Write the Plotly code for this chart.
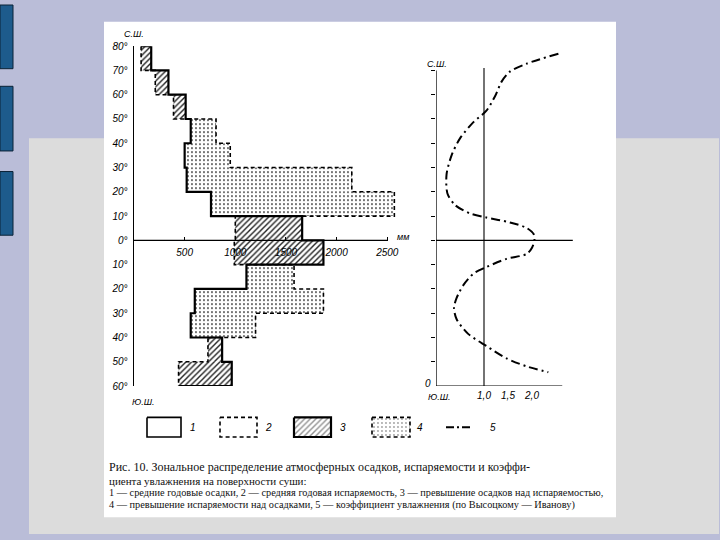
import plotly.graph_objects as go
import numpy as np

W, H = 720, 540

# ---------------- data ----------------
band_top = [80, 70, 60, 50, 40, 30, 20, 10, 0, -10, -20, -30, -40, -50]
band_bottom = [70, 60, 50, 40, 30, 20, 10, 0, -10, -20, -30, -40, -50, -60]
precipitation_mm = [170, 340, 510, 560, 500, 520, 760, 1660, 1870, 1110, 600, 560, 870, 965]
evaporation_mm = [70, 210, 390, 810, 950, 2150, 2570, 1000, 990, 1580, 1870, 1200, 730, 440]

k_latitude = [76.9, 72.8, 69.5, 65.5, 59.4, 53.4, 48.7, 42.0, 35.3, 27.2, 19.2, 14.5, 11.1,
              9.4, 7.4, 5.1, 2.4, 0.0, -3.0, -5.6, -7.6, -11.0, -13.7, -18.4, -23.7, -27.8,
              -32.5, -38.5, -43.5, -48.6, -51.9, -54.3]
k_value = [2.55, 1.89, 1.54, 1.37, 1.23, 1.05, 0.78, 0.50, 0.33, 0.22, 0.24, 0.40, 0.71,
           1.05, 1.54, 1.89, 2.04, 2.05, 2.00, 1.89, 1.47, 1.05, 0.78, 0.57, 0.43, 0.375,
           0.43, 0.67, 1.05, 1.47, 1.89, 2.34]

lat_tick_values = [80, 70, 60, 50, 40, 30, 20, 10, 0, -10, -20, -30, -40, -50, -60]
lat_tick_labels = ["80°", "70°", "60°", "50°", "40°", "30°", "20°", "10°", "0°",
                   "10°", "20°", "30°", "40°", "50°", "60°"]
right_tick_values = [70, 60, 50, 40, 30, 20, 10, 0, -10, -20, -30, -40, -50]
mm_tick_values = [500, 1000, 1500, 2000, 2500]
mm_tick_labels = ["500", "1000", "1500", "2000", "2500"]
k_tick_values = [1.0, 1.5, 2.0]
k_tick_labels = ["1,0", "1,5", "2,0"]


# ---------------- helpers ----------------
def pxx(x):
    return x / W


def pxy(y):
    return 1 - y / H


MM_PX = 0.1013
X0_L, X1_L = 134, 405
K_PX = 48.0
X0_R, X1_R = 436, 590
Y_N, Y_S = 42, 389

top = np.array(band_top, float)
bot = np.array(band_bottom, float)
p = np.array(precipitation_mm, float)
e = np.array(evaporation_mm, float)
centers = (top + bot) / 2
wet = p > e

fig = go.Figure()

# bars: precipitation exceeding evaporation (hatched)
fig.add_trace(go.Bar(
    orientation="h", y=centers[wet], base=e[wet], x=(p - e)[wet], width=10,
    xaxis="x", yaxis="y",
    marker=dict(color="white", line=dict(width=0),
                pattern=dict(shape="/", fgcolor="#222", bgcolor="white",
                             size=4, solidity=0.35, fillmode="replace")),
    showlegend=False, hoverinfo="skip"))
# bars: evaporation exceeding precipitation (dotted)
fig.add_trace(go.Bar(
    orientation="h", y=centers[~wet], base=p[~wet], x=(e - p)[~wet], width=10,
    xaxis="x", yaxis="y",
    marker=dict(color="white", line=dict(width=0),
                pattern=dict(shape=".", fgcolor="#444", bgcolor="white",
                             size=4, solidity=0.18, fillmode="replace")),
    showlegend=False, hoverinfo="skip"))

# evaporation step outline (dashed)
ev_x = np.repeat(e, 2)
ev_y = np.column_stack([top, bot]).ravel()
fig.add_trace(go.Scatter(x=ev_x, y=ev_y, mode="lines", xaxis="x", yaxis="y",
                         line=dict(color="black", width=1.6, dash="4px,3px"),
                         showlegend=False, hoverinfo="skip"))
# precipitation step outline (solid)
pr_x = np.concatenate([[e[0]], np.repeat(p, 2), [e[-1]]])
pr_y = np.concatenate([[top[0]], np.column_stack([top, bot]).ravel(), [bot[-1]]])
fig.add_trace(go.Scatter(x=pr_x, y=pr_y, mode="lines", xaxis="x", yaxis="y",
                         line=dict(color="black", width=2.2),
                         showlegend=False, hoverinfo="skip"))

# moistening coefficient curve
fig.add_trace(go.Scatter(x=k_value, y=k_latitude, mode="lines", xaxis="x2", yaxis="y2",
                         line=dict(color="black", width=2, dash="9px,4px,2px,4px",
                                   shape="spline", smoothing=0.8),
                         showlegend=False, hoverinfo="skip"))

# ---------------- legend swatches (pixel axis) ----------------
def box(x0, y0, x1, y1):
    return [x0, x1, x1, x0, x0], [y0, y0, y1, y1, y0]


bx, by = box(147, 421, 181, 441)
fig.add_trace(go.Scatter(x=bx, y=by, mode="lines", xaxis="x3", yaxis="y3",
                         line=dict(color="black", width=1.6), showlegend=False, hoverinfo="skip"))
bx, by = box(220, 421, 257, 441)
fig.add_trace(go.Scatter(x=bx, y=by, mode="lines", xaxis="x3", yaxis="y3",
                         line=dict(color="black", width=1.6, dash="4px,3px"),
                         showlegend=False, hoverinfo="skip"))
bx, by = box(294, 421, 331, 441)
fig.add_trace(go.Scatter(x=bx, y=by, mode="lines", fill="toself", xaxis="x3", yaxis="y3",
                         fillcolor="white",
                         fillpattern=dict(shape="/", fgcolor="#222", bgcolor="white",
                                          size=4, solidity=0.35),
                         line=dict(color="black", width=2.2), showlegend=False, hoverinfo="skip"))
bx, by = box(372, 421, 410, 441)
fig.add_trace(go.Scatter(x=bx, y=by, mode="lines", fill="toself", xaxis="x3", yaxis="y3",
                         fillcolor="white",
                         fillpattern=dict(shape=".", fgcolor="#444", bgcolor="white",
                                          size=4, solidity=0.18),
                         line=dict(color="black", width=1.6, dash="4px,3px"),
                         showlegend=False, hoverinfo="skip"))
fig.add_trace(go.Scatter(x=[446, 473], y=[431, 431], mode="lines", xaxis="x3", yaxis="y3",
                         line=dict(color="black", width=2, dash="8px,3px,2px,3px"),
                         showlegend=False, hoverinfo="skip"))

# ---------------- shapes ----------------
shapes = []
# slide background
shapes.append(dict(type="rect", xref="paper", yref="paper", layer="below",
                   x0=pxx(29), x1=pxx(719), y0=0, y1=pxy(136),
                   fillcolor="#dcdcdc", line=dict(width=0)))
for (a, b) in [(0, 65), (83, 149), (170, 235)]:
    shapes.append(dict(type="rect", xref="paper", yref="paper", layer="below",
                       x0=pxx(0), x1=pxx(13), y0=pxy(b), y1=pxy(a),
                       fillcolor="#1d5b8c", line=dict(width=1, color="#0b2236")))
shapes.append(dict(type="rect", xref="paper", yref="paper", layer="below",
                   x0=pxx(104), x1=pxx(616), y0=pxy(523), y1=pxy(17),
                   fillcolor="white", line=dict(width=0)))
# left chart: equator axis line
shapes.append(dict(type="line", xref="x", yref="y", x0=0, x1=2500, y0=0, y1=0,
                   line=dict(color="black", width=1.3)))
# right chart lines
shapes.append(dict(type="line", xref="x2", yref="y2", x0=0, x1=0, y0=-60, y1=70,
                   line=dict(color="black", width=1.3)))
shapes.append(dict(type="line", xref="x2", yref="y2", x0=1, x1=1, y0=-60, y1=71,
                   line=dict(color="black", width=1.1)))
shapes.append(dict(type="line", xref="x2", yref="y2", x0=0, x1=2.85, y0=0, y1=0,
                   line=dict(color="black", width=1.1)))
shapes.append(dict(type="line", xref="x2", yref="y2", x0=0, x1=2.63, y0=-60, y1=-60,
                   line=dict(color="black", width=1.1)))

# ---------------- annotations ----------------
lab_font = dict(family="Liberation Sans", size=10, color="black", style="italic")
cap_font = dict(family="Liberation Serif", color="#111")
ann = []


def add_text(t, x, y, font, xanchor="center", size=None):
    f = dict(font)
    if size:
        f["size"] = size
    ann.append(dict(text=t, x=pxx(x), y=pxy(y), xref="paper", yref="paper",
                    xanchor=xanchor, yanchor="middle", showarrow=False, font=f))


add_text("С.Ш.", 134, 30, lab_font, size=9)
add_text("Ю.Ш.", 143, 405, lab_font, size=9)
add_text("мм", 403, 237, lab_font, size=9)
add_text("С.Ш.", 437, 60, lab_font, size=9)
add_text("Ю.Ш.", 439, 400, lab_font, size=9)
add_text("0", 428, 386, lab_font)
for t, x in [("1", 188), ("2", 263), ("3", 338), ("4", 415), ("5", 488)]:
    add_text(t, x, 431, lab_font, xanchor="left")

add_text("Рис. 10. Зональное распределение атмосферных осадков, испаряемости и коэффи-",
         107, 472, cap_font, xanchor="left", size=12)
add_text("циента увлажнения на поверхности суши:", 107, 486, cap_font, xanchor="left", size=11)
add_text("1 — средние годовые осадки, 2 — средняя годовая испаряемость, "
         "3 — превышение осадков над испаряемостью,", 107, 498, cap_font, xanchor="left", size=10.3)
add_text("4 — превышение испаряемости над осадками, 5 — коэффициент увлажнения "
         "(по Высоцкому — Иванову)", 107, 510, cap_font, xanchor="left", size=10.3)

fig.update_layout(
    width=W, height=H, autosize=False,
    margin=dict(l=0, r=0, t=0, b=0, pad=0),
    paper_bgcolor="#babdd8", plot_bgcolor="rgba(0,0,0,0)",
    barmode="overlay", showlegend=False,
    shapes=shapes, annotations=ann,
    xaxis=dict(domain=[pxx(X0_L), pxx(X1_L)], range=[0, (X1_L - X0_L) / MM_PX],
               anchor="free", position=pxy(241), showline=False, showgrid=False,
               zeroline=False, tickvals=mm_tick_values, ticktext=mm_tick_labels,
               ticks="inside", ticklen=4, tickcolor="black", tickfont=lab_font,
               ticklabelstandoff=4, fixedrange=True),
    yaxis=dict(domain=[pxy(Y_S), pxy(Y_N)], range=[-60, 80], anchor="x",
               showline=True, linecolor="black", linewidth=1.5, showgrid=False,
               zeroline=False, tickvals=lat_tick_values, ticktext=lat_tick_labels,
               ticks="", tickfont=lab_font, ticklabelstandoff=3, fixedrange=True),
    xaxis2=dict(domain=[pxx(X0_R), pxx(X1_R)], range=[0, (X1_R - X0_R) / K_PX],
                anchor="y2", showline=False, showgrid=False, zeroline=False,
                tickvals=k_tick_values, ticktext=k_tick_labels, ticks="",
                tickfont=lab_font, ticklabelstandoff=2, fixedrange=True),
    yaxis2=dict(domain=[pxy(Y_S), pxy(Y_N)], range=[-60, 80], anchor="x2",
                showline=False, showgrid=False, zeroline=False,
                tickvals=right_tick_values, ticks="outside", ticklen=4,
                tickcolor="black", showticklabels=False, fixedrange=True),
    xaxis3=dict(domain=[0, 1], range=[0, W], anchor="y3", visible=False, fixedrange=True),
    yaxis3=dict(domain=[0, 1], range=[H, 0], anchor="x3", visible=False, fixedrange=True),
)

fig.write_html(
    "out.html",
    config={"displayModeBar": False, "staticPlot": True},
    post_script="document.body.style.margin='0';document.body.style.padding='0';"
                "document.documentElement.style.overflow='hidden';",
)
